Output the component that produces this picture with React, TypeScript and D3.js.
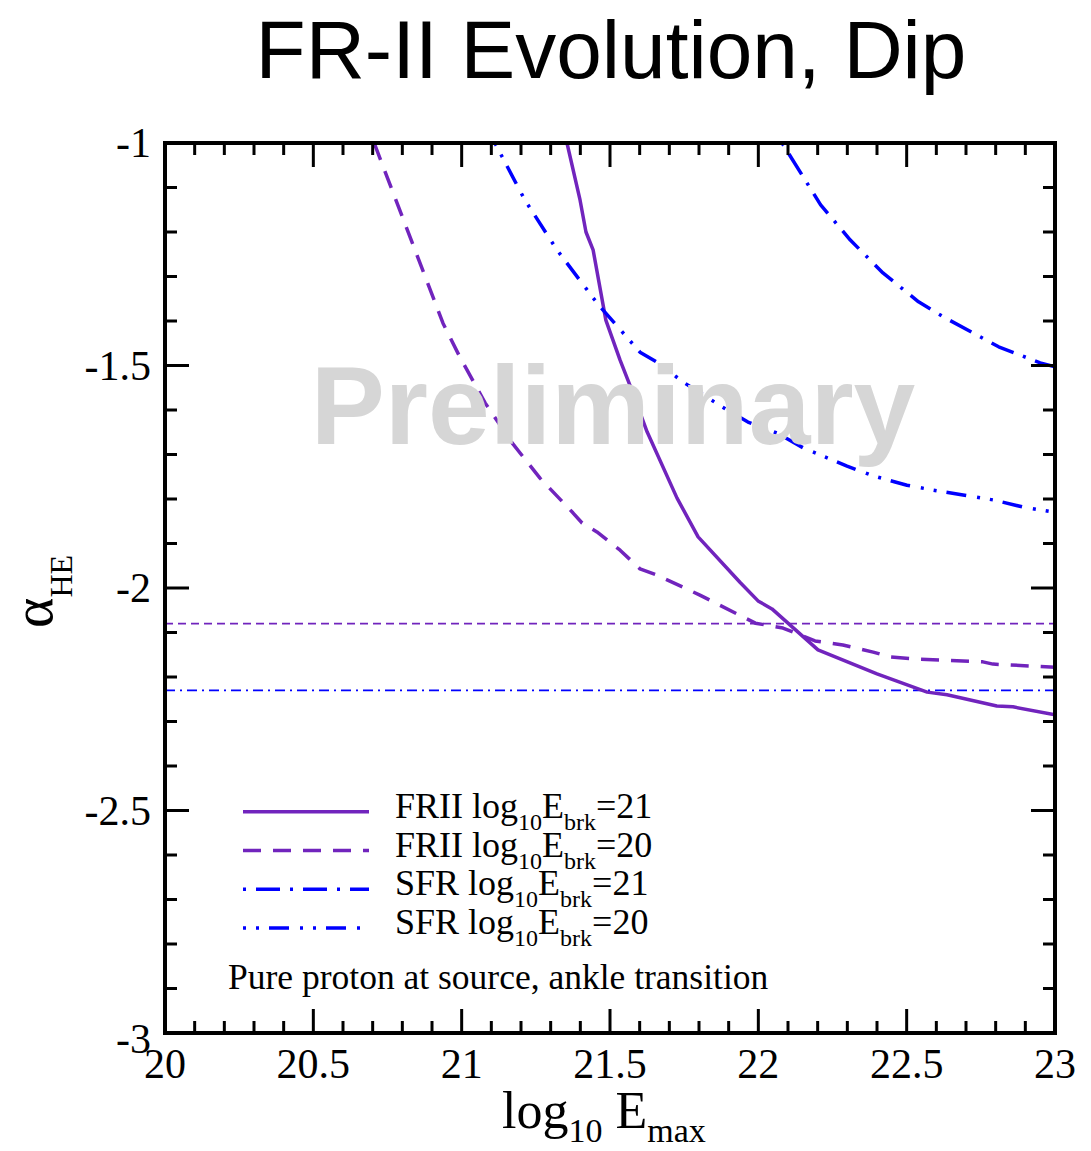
import React from 'react';
import * as d3 from 'd3';

// curves (x = log10 Emax, y = alpha_HE)
const friiBrk21: [number, number][] = [
  [21.355, -1.0], [21.399, -1.128], [21.419, -1.2], [21.443, -1.24], [21.486, -1.398],
  [21.534, -1.488], [21.567, -1.544], [21.625, -1.649], [21.726, -1.798], [21.797, -1.885],
  [21.938, -1.987], [21.999, -2.029], [22.046, -2.047], [22.201, -2.139], [22.4, -2.193],
  [22.437, -2.202], [22.569, -2.234], [22.636, -2.24], [22.804, -2.265], [22.858, -2.267],
  [23.0, -2.285],
];
const friiBrk20: [number, number][] = [
  [20.705, -1.0], [20.937, -1.405], [20.994, -1.481], [21.079, -1.584], [21.17, -1.674],
  [21.264, -1.753], [21.375, -1.831], [21.406, -1.854], [21.456, -1.874], [21.534, -1.915],
  [21.601, -1.957], [21.658, -1.971], [21.803, -2.016], [21.99, -2.079], [22.083, -2.09],
  [22.191, -2.119], [22.285, -2.128], [22.387, -2.144], [22.444, -2.155], [22.535, -2.16],
  [22.757, -2.166], [22.791, -2.171], [23.0, -2.178],
];
const sfrBrk21: [number, number][] = [
  [22.08, -1.0], [22.21, -1.139], [22.31, -1.218], [22.42, -1.292], [22.54, -1.357],
  [22.63, -1.393], [22.81, -1.458], [22.95, -1.494], [23.0, -1.503],
];
const sfrBrk20: [number, number][] = [
  [21.112, -1.0], [21.213, -1.128], [21.321, -1.24], [21.443, -1.348], [21.476, -1.375],
  [21.601, -1.47], [21.662, -1.494], [21.746, -1.537], [21.878, -1.593], [21.965, -1.627],
  [22.063, -1.652], [22.151, -1.685], [22.299, -1.726], [22.387, -1.748], [22.501, -1.769],
  [22.589, -1.78], [22.69, -1.791], [22.791, -1.802], [22.892, -1.818], [23.0, -1.83],
];
// horizontal reference levels
const friiRef = -2.08;
const sfrRef = -2.23;

const xTicks = [20, 20.5, 21, 21.5, 22, 22.5, 23];
const xTickLabels = ['20', '20.5', '21', '21.5', '22', '22.5', '23'];
const yTicks = [-1, -1.5, -2, -2.5, -3];
const yTickLabels = ['-1', '-1.5', '-2', '-2.5', '-3'];

const legendRows = [
  { name: 'FRII', brk: '21' },
  { name: 'FRII', brk: '20' },
  { name: 'SFR', brk: '21' },
  { name: 'SFR', brk: '20' },
];

const PURPLE = '#7124bd';
const BLUE = '#0000ff';
const serif = '"Liberation Serif", "Times New Roman", Times, serif';
const sans = '"Liberation Sans", Arial, Helvetica, sans-serif';

const W = 1091;
const H = 1151;
const left = 165, right = 1055, top = 143, bottom = 1033;

const styles = [
  { data: friiBrk21, color: PURPLE, dash: 'none' },
  { data: friiBrk20, color: PURPLE, dash: '18,12' },
  { data: sfrBrk21, color: BLUE, dash: '3,10,24,10' },
  { data: sfrBrk20, color: BLUE, dash: '3,10,3,10,20,11' },
];

const App: React.FC = () => {
  const x = d3.scaleLinear().domain([20, 23]).range([left, right]);
  const y = d3.scaleLinear().domain([-3, -1]).range([bottom, top]);

  const line = d3.line<[number, number]>()
    .x(d => x(d[0]))
    .y(d => y(d[1]));

  const xMinor = d3.range(20, 23.0001, 0.1).filter(v => Math.abs(v * 2 - Math.round(v * 2)) > 1e-6);
  const yMinor = d3.range(-3, -0.9999, 0.1).filter(v => Math.abs(v * 2 - Math.round(v * 2)) > 1e-6);
  const major = 24, minor = 12;

  const legendY0 = 811.7, legendStep = 38.8;

  return (
    <svg width={W} height={H} style={{ position: 'absolute', left: 0, top: 0, background: '#fff' }}>
      <defs>
        <clipPath id="plot-clip">
          <rect x={left} y={top} width={right - left} height={bottom - top} />
        </clipPath>
      </defs>

      {/* Title */}
      <text x={611} y={78} textAnchor="middle" fontFamily={sans} fontSize={82} fontWeight={300} fill="#000">
        FR-II Evolution, Dip
      </text>

      {/* reference lines */}
      <g clipPath="url(#plot-clip)">
        <line x1={left} x2={right} y1={y(friiRef)} y2={y(friiRef)} stroke={PURPLE} strokeWidth={1.6} strokeDasharray="8,5" />
        <line x1={left} x2={right} y1={y(sfrRef)} y2={y(sfrRef)} stroke={BLUE} strokeWidth={1.6} strokeDasharray="10,5,2,5" />
        {styles.map((s, i) => (
          <path key={i} d={line(s.data) || ''} fill="none" stroke={s.color} strokeWidth={3.5}
            strokeDasharray={s.dash} strokeLinejoin="round" />
        ))}
      </g>

      {/* watermark drawn over the curves */}
      <text x={613} y={444} textAnchor="middle" fontFamily={sans} fontSize={111} fontWeight="bold" fill="#d6d6d6">
        Preliminary
      </text>

      {/* ticks, all four sides, inward */}
      <g stroke="#000" strokeWidth={3}>
        {xTicks.map(t => (
          <g key={`xM${t}`}>
            <line x1={x(t)} x2={x(t)} y1={bottom} y2={bottom - major} />
            <line x1={x(t)} x2={x(t)} y1={top} y2={top + major} />
          </g>
        ))}
        {xMinor.map(t => (
          <g key={`xm${t}`}>
            <line x1={x(t)} x2={x(t)} y1={bottom} y2={bottom - minor} />
            <line x1={x(t)} x2={x(t)} y1={top} y2={top + minor} />
          </g>
        ))}
        {yTicks.map(t => (
          <g key={`yM${t}`}>
            <line x1={left} x2={left + major} y1={y(t)} y2={y(t)} />
            <line x1={right} x2={right - major} y1={y(t)} y2={y(t)} />
          </g>
        ))}
        {yMinor.map(t => (
          <g key={`ym${t}`}>
            <line x1={left} x2={left + minor} y1={y(t)} y2={y(t)} />
            <line x1={right} x2={right - minor} y1={y(t)} y2={y(t)} />
          </g>
        ))}
      </g>
      <rect x={left} y={top} width={right - left} height={bottom - top} fill="none" stroke="#000" strokeWidth={4} />

      {/* tick labels */}
      <g fontFamily={serif} fontSize={42} fill="#000">
        {xTicks.map((t, i) => (
          <text key={`xl${t}`} x={x(t)} y={1078} textAnchor="middle">{xTickLabels[i]}</text>
        ))}
        {yTicks.map((t, i) => (
          <text key={`yl${t}`} x={151} y={y(t) + 14 + (t === -3 ? 6 : 0)} textAnchor="end">{yTickLabels[i]}</text>
        ))}
      </g>

      {/* axis titles */}
      <text x={502} y={1128} fontFamily={serif} fontSize={52} fill="#000">
        log<tspan fontSize={34} dy={14}>10</tspan>
        <tspan fontSize={52} dy={-14}> E</tspan>
        <tspan fontSize={34} dy={14}>max</tspan>
      </text>
      <text transform="translate(52,628) rotate(-90)" fontFamily={serif} fontSize={58} fill="#000">
        α<tspan fontSize={32} dy={20}>HE</tspan>
      </text>

      {/* legend */}
      {legendRows.map((r, i) => {
        const ly = legendY0 + i * legendStep;
        return (
          <g key={`lg${i}`}>
            <line x1={243} x2={369} y1={ly} y2={ly} stroke={styles[i].color} strokeWidth={3.5}
              strokeDasharray={styles[i].dash} />
            <text x={395} y={ly + 6} fontFamily={serif} fontSize={36} fill="#000">
              {r.name} log<tspan fontSize={24} dy={12}>10</tspan>
              <tspan fontSize={36} dy={-12}>E</tspan>
              <tspan fontSize={24} dy={12}>brk</tspan>
              <tspan fontSize={36} dy={-12}>={r.brk}</tspan>
            </text>
          </g>
        );
      })}
      <text x={228} y={989} fontFamily={serif} fontSize={35.5} fill="#000">
        Pure proton at source, ankle transition
      </text>
    </svg>
  );
};

export default App;
